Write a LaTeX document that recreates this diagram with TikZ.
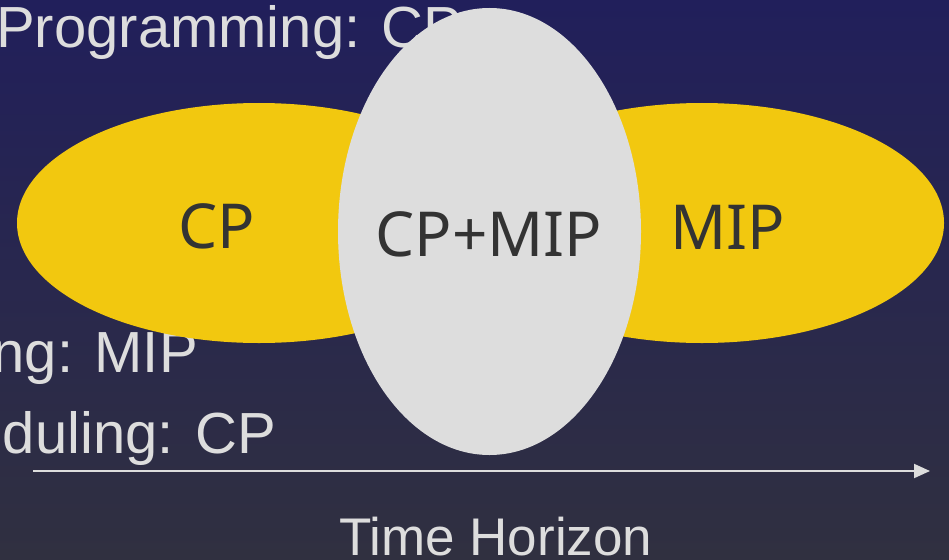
\documentclass[tikz,border=0pt]{standalone}
\usepackage{fontspec}
\setmainfont{Liberation Sans}
\newfontfamily\innerfont{Noto Sans}
\usetikzlibrary{shapes.geometric,arrows.meta}
\definecolor{bgtop}{HTML}{211F5B}
\definecolor{bgbot}{HTML}{303040}
\definecolor{lighttext}{HTML}{DDDDDD}
\definecolor{gold}{HTML}{F2C80F}
\definecolor{pale}{HTML}{DDDDDD}
\definecolor{dark}{HTML}{333333}
\tikzset{
  slidetext/.style={inner sep=0pt, text=lighttext, font=\fontsize{58}{60}\selectfont},
  yellowblob/.style={ellipse, fill=gold, draw=none, inner sep=0pt, minimum width=484pt, minimum height=240pt},
  greyblob/.style={ellipse, fill=pale, draw=none, inner sep=0pt, minimum width=303pt, minimum height=447pt},
  blobtext/.style={inner sep=0pt, anchor=base, text=dark, font=\innerfont\fontsize{62}{64}\selectfont},
  axis/.style={draw=lighttext, line width=2pt, -{Triangle[length=16pt,width=14pt]}}
}
\begin{document}
\begin{tikzpicture}[x=1pt,y=-1pt]
\shade[top color=bgtop, bottom color=bgbot] (0,0) rectangle (949,559);
\useasboundingbox (0,0) rectangle (949,559);
% background text
\node[slidetext, anchor=base west] (t1) at (-4,48) {Programming: CP};
\node[slidetext, anchor=base east] (t2) at (198,372) {ng: MIP};
\node[slidetext, anchor=base east] (t3) at (276,453) {duling: CP};
% ellipses
\node[yellowblob] (cp) at (259,223) {};
\node[yellowblob] (mip) at (702,223) {};
\node[greyblob] (both) at (489.5,231.5) {};
\node[blobtext] (cpl) at (217,248) {CP};
\node[blobtext] (bothl) at (489,256) {CP+MIP};
\node[blobtext] (mipl) at (728,249) {MIP};
% time axis
\coordinate (a0) at (33,471);
\coordinate (a1) at (930,471);
\draw[axis] (a0) -- (a1);
\node[slidetext, anchor=base west, font=\fontsize{53}{55}\selectfont] (th) at (339,555) {Time Horizon};
\end{tikzpicture}
\end{document}
